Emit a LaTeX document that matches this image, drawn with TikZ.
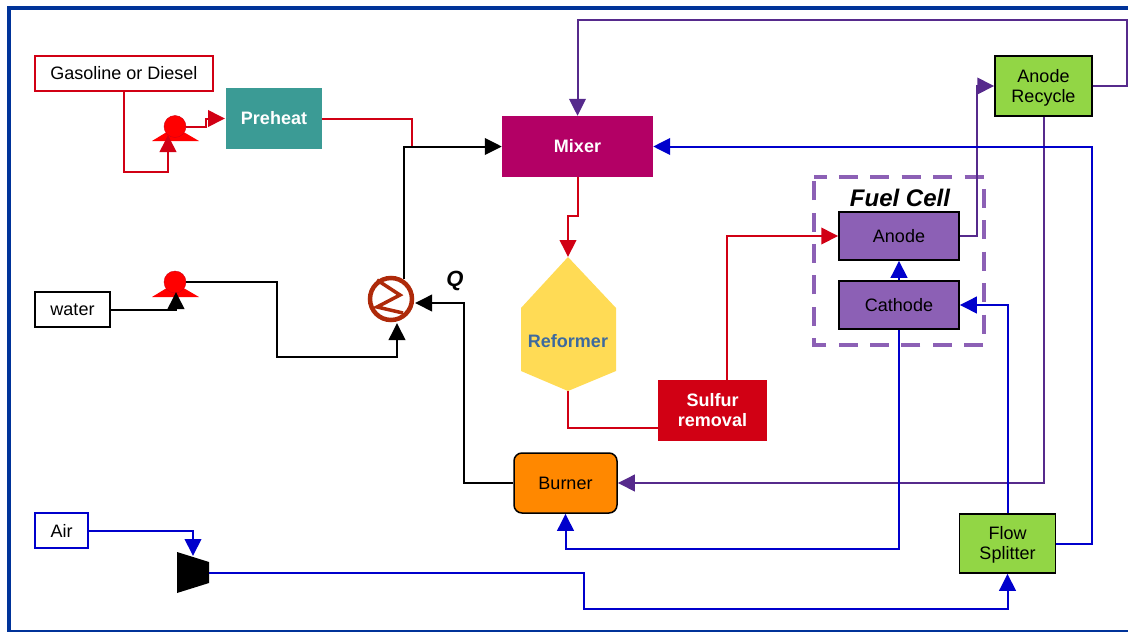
\documentclass[tikz,border=0pt]{standalone}
\usepackage{fontspec}
\setmainfont{Liberation Sans}
\usetikzlibrary{arrows.meta}
\definecolor{framecol}{HTML}{003399}
\definecolor{redcol}{HTML}{D10014}
\definecolor{bluecol}{HTML}{0000CC}
\definecolor{purplecol}{HTML}{562A8C}
\definecolor{cellcol}{HTML}{8C60B5}
\definecolor{greencol}{HTML}{92D645}
\definecolor{tealcol}{HTML}{3B9B95}
\definecolor{mixercol}{HTML}{B30065}
\definecolor{orangecol}{HTML}{FF8800}
\definecolor{yellowcol}{HTML}{FFDB55}
\definecolor{slatecol}{HTML}{3D6A9E}
\definecolor{hxcol}{HTML}{AE2A0A}
\definecolor{pumpcol}{HTML}{FF0000}
\tikzset{
	plain/.style={rectangle,inner sep=0pt,font=\fontsize{18}{20}\selectfont,align=center},
	block/.style={plain,text=white,font=\fontsize{18}{20}\selectfont\bfseries},
	boxed/.style={plain,draw=black,line width=1.5pt},
	redline/.style={draw=redcol,line width=2pt,-{Triangle[length=17pt,width=16.5pt]}},
	blueline/.style={draw=bluecol,line width=2pt,-{Triangle[length=17pt,width=16.5pt]}},
	blackline/.style={draw=black,line width=2pt,-{Triangle[length=17pt,width=16.5pt]}},
	purpleline/.style={draw=purplecol,line width=2pt,-{Triangle[length=17pt,width=16.5pt]}},
}
\begin{document}
\begin{tikzpicture}[x=1pt,y=-1pt]
	\useasboundingbox (0,0) rectangle (1128,632);
	\draw[framecol,line width=4pt] (9,7.5) rectangle (1140,632);

	\node at (124,73.5) [plain,draw=redcol,minimum width=178pt,minimum height=35pt,line width=1.5pt] (gasoline) {Gasoline or Diesel};
	\node at (72.5,309.5) [plain,draw=black,minimum width=75pt,minimum height=35pt,line width=1.5pt] (water) {water};
	\node at (61.5,530.5) [plain,draw=bluecol,minimum width=53pt,minimum height=35pt,line width=1.5pt] (air) {Air};
	\node at (274,118.5) [block,fill=tealcol,minimum width=96pt,minimum height=61pt] (preheat) {Preheat};
	\node at (577.5,146.5) [block,fill=mixercol,minimum width=151pt,minimum height=61pt] (mixer) {Mixer};
	\node at (712.5,410.5) [block,fill=redcol,minimum width=109pt,minimum height=61pt] (sulfur) {Sulfur\\removal};
	\node at (899,236) [boxed,fill=cellcol,minimum width=120pt,minimum height=48pt] (anode) {Anode};
	\node at (899,305) [boxed,fill=cellcol,minimum width=120pt,minimum height=48pt] (cathode) {Cathode};
	\node at (1043.5,86) [boxed,fill=greencol,minimum width=97pt,minimum height=60pt] (recycle) {\rule{0pt}{17pt}Anode\\Recycle};
	\node at (1007.5,543.5) [boxed,fill=greencol,minimum width=96pt,minimum height=59pt] (splitter) {\rule{0pt}{15pt}Flow\\Splitter};
	\node at (565.5,483) [boxed,rounded corners=8pt,fill=orangecol,minimum width=103pt,minimum height=60pt] (burner) {Burner};
	\node at (899,261) [rectangle,outer sep=0pt,minimum width=170pt,minimum height=168pt] (fuelcell) {};
	\draw[cellcol,line width=4pt,dash pattern=on 19pt off 12.4pt,dash phase=6.5pt] (fuelcell.north west) -- (fuelcell.north east) -- (fuelcell.south east) -- (fuelcell.south west) -- cycle;
	\node at (900,198) [plain,font=\fontsize{24}{26}\selectfont\bfseries\itshape] (celltitle) {Fuel Cell};
	\node at (455,281) [plain,font=\fontsize{22}{24}\selectfont\bfseries\itshape] (qlabel) {Q};

	\fill[yellowcol] (568,257) -- (616,308) -- (616,371) -- (568,391) -- (521,371) -- (521,308) -- cycle;
	\node at (568,341) [plain,text=slatecol,font=\fontsize{18}{20}\selectfont\bfseries] (reformer) {Reformer};
	\coordinate (reformertop) at (568,257);
	\coordinate (reformerbot) at (568,391);

	\fill[pumpcol] (152,141) -- (199,141) -- (175,127) -- cycle;
	\node at (175,126.5) [circle,fill=pumpcol,draw=redcol,inner sep=0pt,minimum size=22pt] (pumpa) {};
	\fill[pumpcol] (152,297) -- (199,297) -- (175,283) -- cycle;
	\node at (175,282) [circle,fill=pumpcol,draw=redcol,inner sep=0pt,minimum size=22pt] (pumpb) {};

	\fill (177,552) -- (209,562) -- (209,583) -- (177,593) -- cycle;
	\coordinate (compin) at (193,556);
	\coordinate (compout) at (209,573);

	\node at (391,299) [circle,draw=hxcol,line width=4.5pt,inner sep=0pt,minimum size=42pt] (hx) {};
	\draw[hxcol,line width=3.5pt] (377,280) -- (400,295) -- (377,307) -- (403,313);

	\draw[redline] (gasoline.south) |- (168,172) -- (168,135);
	\draw[redline] (pumpa.east) -- (206,126.5) -- (206,118.5) -- (225,118.5);
	\draw[redline,-] (preheat.east) -| (412,146);
	\draw[redline] (mixer.south) -- (577.5,216) -- (568,216) -- (reformertop);
	\draw[redline,-] (reformerbot) |- (sulfur.west |- 0,428);
	\draw[redline] (727,380) |- (anode.west);

	\draw[blackline] (water.east) -- (176,309.5) -- (176,292);
	\draw[blackline] (pumpb.east) -- (277,282) -- (277,357) -- (397,357) -- (397,323);
	\draw[blackline] (404,279) |- (mixer.west);
	\draw[blackline] (burner.west) -- (464,483) -- (464,303) -- (415,303);

	\draw[purpleline] (anode.east) -- (977,236) |- (recycle.west);
	\draw[purpleline] (recycle.east) -- (1127,86) -- (1127,20) -- (577.5,20) -- (mixer.north);
	\draw[purpleline] (recycle.south) |- (burner.east);

	\draw[blueline] (cathode.north) -- (anode.south);
	\draw[blueline] (cathode.south) -- (899,549) -- (565.5,549) -- (burner.south);
	\draw[blueline] (air.east) -| (compin);
	\draw[blueline] (compout) -- (584,573) -- (584,609) -- (1007.5,609) -- (splitter.south);
	\draw[blueline] (splitter.north) |- (cathode.east);
	\draw[blueline] (splitter.east) -- (1092,543.5) |- (mixer.east);
\end{tikzpicture}
\end{document}
